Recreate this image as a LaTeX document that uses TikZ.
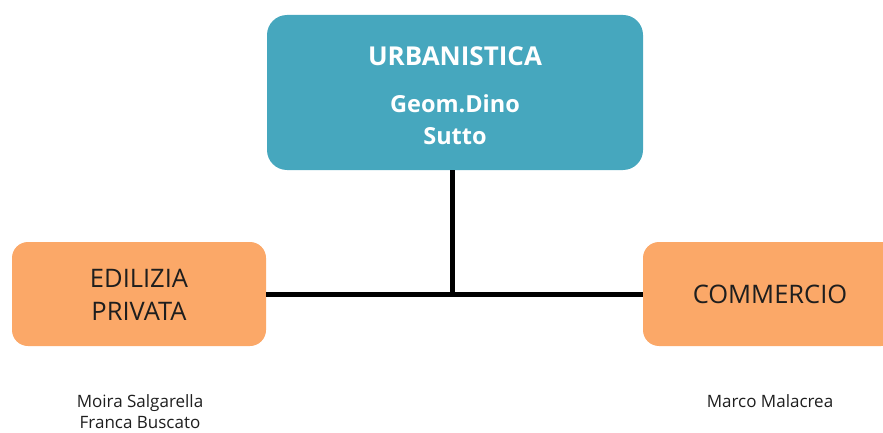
\documentclass[tikz,border=0pt]{standalone}
\usepackage{fontspec}
\setmainfont{Open Sans}
\definecolor{boxteal}{HTML}{46A7BE}
\definecolor{boxorange}{HTML}{FBA868}
\definecolor{txtdark}{HTML}{1E1E1E}
\tikzset{
  x=1pt, y=-1pt,
  tealbox/.style={fill=boxteal, draw=none, rounded corners=20pt, minimum width=376pt, minimum height=155pt},
  orangebox/.style={fill=boxorange, draw=none, rounded corners=16pt, minimum width=254pt, minimum height=104pt},
  conn/.style={line width=5pt, black},
  boxtext/.style={anchor=base, inner sep=0pt, text=txtdark, font=\fontsize{25.5}{33}\selectfont, align=center},
  toptext/.style={anchor=base, inner sep=0pt, text=white, font=\bfseries\fontsize{23.5}{32}\selectfont},
  nametext/.style={anchor=base, inner sep=0pt, text=txtdark, font=\fontsize{17}{21}\selectfont}
}
\begin{document}
\begin{tikzpicture}
\useasboundingbox (0,0) rectangle (883,433);
\clip (0,0) rectangle (883,433);
\node[tealbox] (top) at (455,92.5) {};
\node[orangebox] (left) at (139,294) {};
\node[orangebox] (right) at (770,294) {};
\coordinate (j) at (452,294);
\draw[conn] (j |- top.south) -- (j);
\draw[conn] (left.east) -- (right.west);
\node[toptext, font=\bfseries\fontsize{26}{32}\selectfont] (t1) at (455,66) {URBANISTICA};
\node[toptext] (t2) at (455,113) {Geom.Dino};
\node[toptext] (t3) at (455,145) {Sutto};
\node[boxtext] (l1) at (139,287) {EDILIZIA};
\node[boxtext] (l2) at (139,320) {PRIVATA};
\node[boxtext] (r1) at (770,303) {COMMERCIO};
\node[nametext] (n1) at (140,407) {Moira Salgarella};
\node[nametext] (n2) at (140,428) {Franca Buscato};
\node[nametext] (n3) at (770,407) {Marco Malacrea};
\end{tikzpicture}
\end{document}
